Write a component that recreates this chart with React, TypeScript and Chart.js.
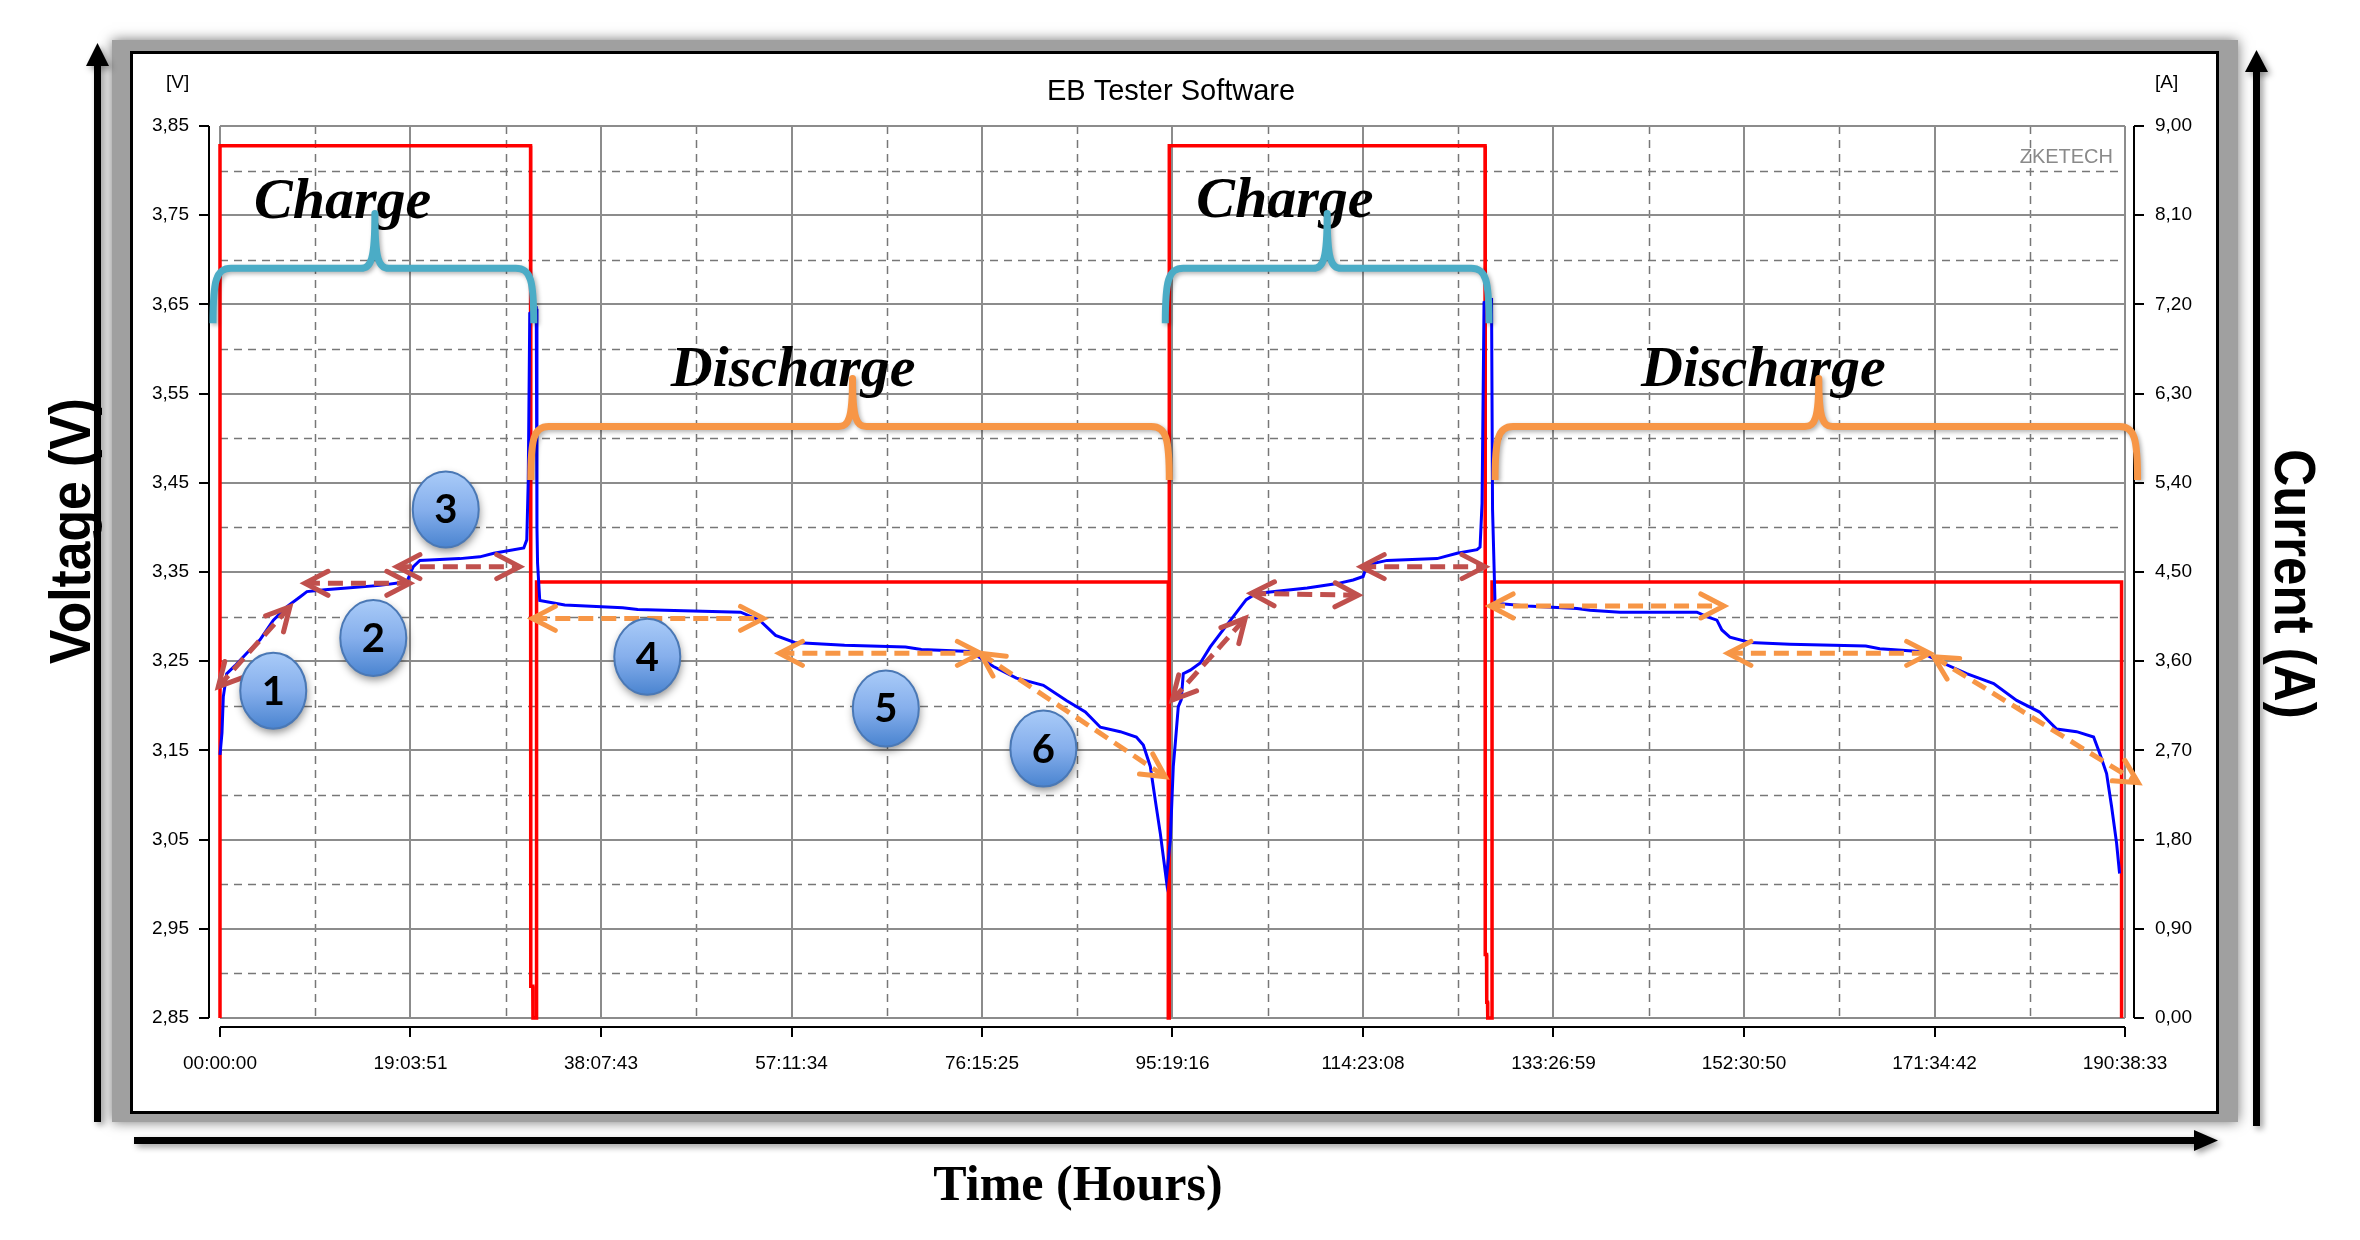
import { useEffect, useRef } from "react";
import { Chart, registerables } from "chart.js";

Chart.register(...registerables);

// ---------------- data ----------------
const TITLE = "EB Tester Software";
const X_TICK_LABELS = [
  "00:00:00", "19:03:51", "38:07:43", "57:11:34", "76:15:25", "95:19:16",
  "114:23:08", "133:26:59", "152:30:50", "171:34:42", "190:38:33",
];
const V_TICKS = [2.85, 2.95, 3.05, 3.15, 3.25, 3.35, 3.45, 3.55, 3.65, 3.75, 3.85];
const A_TICKS = [0, 0.9, 1.8, 2.7, 3.6, 4.5, 5.4, 6.3, 7.2, 8.1, 9.0];

// voltage (V) vs time (h)
const CHARGE1_T = [0, 0.2, 0.33, 0.67, 1.5, 2.67, 4.0, 5.34, 6.67, 8.0, 8.7, 10.5, 12.7, 16.0, 18.7, 19.1, 19.35, 20.0, 24.0, 26.0, 27.4, 30.4, 30.7, 30.85, 31.0, 31.65, 31.72, 31.78, 32.0];
const CHARGE1_V = [3.145, 3.17, 3.21, 3.236, 3.245, 3.259, 3.274, 3.296, 3.311, 3.322, 3.328, 3.33, 3.332, 3.335, 3.339, 3.35, 3.356, 3.363, 3.365, 3.367, 3.371, 3.377, 3.386, 3.453, 3.64, 3.645, 3.4, 3.36, 3.318];
const DISCHARGE1_T = [34.5, 40.3, 41.8, 44.5, 52.1, 54.0, 55.6, 57.5, 62.5, 68.6, 70.2, 75.1, 77.4, 79.7, 82.4, 84.7, 86.6, 88.1, 90.1, 91.7, 92.4, 93.1, 93.6, 94.1, 94.7];
const DISCHARGE1_V = [3.313, 3.31, 3.308, 3.307, 3.305, 3.296, 3.279, 3.271, 3.268, 3.266, 3.263, 3.261, 3.244, 3.231, 3.223, 3.206, 3.193, 3.176, 3.171, 3.165, 3.156, 3.132, 3.094, 3.057, 3.005];
const CHARGE2_T = [95.1, 95.4, 95.6, 95.9, 96.2, 96.4, 97.1, 98.1, 99.1, 100.1, 101.4, 102.7, 103.7, 108.8, 111.8, 113.4, 114.4, 114.8, 116.8, 121.8, 123.8, 125.8, 126.1, 126.3, 126.5, 127.25, 127.35, 127.6];
const CHARGE2_V = [3.049, 3.132, 3.158, 3.199, 3.207, 3.236, 3.24, 3.248, 3.266, 3.281, 3.3, 3.319, 3.326, 3.332, 3.337, 3.341, 3.345, 3.358, 3.363, 3.365, 3.371, 3.375, 3.378, 3.427, 3.652, 3.655, 3.42, 3.315];
const DISCHARGE2_T = [130.8, 135.8, 137.1, 140.1, 147.8, 148.8, 149.8, 150.3, 151.1, 153.1, 157.1, 164.7, 166.1, 170.1, 171.1, 172.8, 174.8, 177.5, 179.8, 182.1, 183.8, 185.8, 187.5, 188.1, 188.8, 189.3, 189.8, 190.1];
const DISCHARGE2_V = [3.312, 3.309, 3.307, 3.305, 3.305, 3.3, 3.296, 3.285, 3.277, 3.271, 3.269, 3.267, 3.264, 3.261, 3.255, 3.246, 3.236, 3.225, 3.206, 3.193, 3.174, 3.171, 3.165, 3.147, 3.124, 3.087, 3.046, 3.012];

// current (A) vs time (h)
const CURRENT_T = [0, 0, 31.08, 31.1, 31.3, 31.32, 31.68, 31.68, 94.9, 94.9, 95.0, 95.0, 126.6, 126.62, 126.75, 126.77, 126.85, 126.87, 127.3, 127.3, 190.3, 190.3];
const CURRENT_A = [0, 8.8, 8.8, 0.32, 0.32, 0, 0, 4.4, 4.4, 0, 0, 8.8, 8.8, 0.64, 0.64, 0.16, 0.16, 0, 0, 4.4, 4.4, 0];

// phase labels (data units: hours / volts)
const PHASE_TEXT = ["Charge", "Discharge", "Charge", "Discharge"];
const PHASE_T = [3.4, 45.1, 97.7, 142.2];
const PHASE_V = [3.7465, 3.558, 3.7483, 3.558];

// braces
const BRACE_KIND = ["charge", "discharge", "charge", "discharge"];
const BRACE_T0 = [-0.7, 31.1, 94.6, 127.6];
const BRACE_TM = [15.5, 63.3, 110.8, 160.0];
const BRACE_T1 = [31.4, 95.0, 127.0, 191.9];
const BRACE_FOOT_V = [3.629, 3.453, 3.629, 3.453];
const BRACE_BAR_V = [3.6905, 3.513, 3.6905, 3.513];
const BRACE_TIP_V = [3.752, 3.567, 3.752, 3.567];

// numbered steps
const STEP_TEXT = ["1", "2", "3", "4", "5", "6"];
const STEP_T = [5.33, 15.34, 22.59, 42.76, 66.63, 82.4];
const STEP_V = [3.217, 3.276, 3.42, 3.255, 3.197, 3.152];

// dashed double arrows
const ARROW_KIND = ["charge", "charge", "charge", "charge", "charge", "charge", "discharge", "discharge", "discharge", "discharge", "discharge", "discharge"];
const ARROW_T0 = [-0.17, 8.5, 17.7, 95.3, 103.2, 114.2, 31.25, 55.98, 76.1, 127.1, 150.9, 171.5];
const ARROW_V0 = [3.2214, 3.3373, 3.356, 3.2065, 3.326, 3.356, 3.298, 3.2588, 3.2588, 3.3119, 3.2588, 3.255];
const ARROW_T1 = [7.0, 19.0, 30.0, 102.6, 113.9, 126.6, 54.4, 76.1, 94.6, 150.5, 171.1, 191.96];
const ARROW_V1 = [3.3111, 3.3373, 3.356, 3.298, 3.324, 3.356, 3.298, 3.2588, 3.1205, 3.3119, 3.2588, 3.1138];

// ---------------- helpers ----------------
const hms = (s: string) => {
  const [h, m, sec] = s.split(":").map(Number);
  return h + m / 60 + sec / 3600;
};
const X_TICK_VALUES = X_TICK_LABELS.map(hms);
const X_MAX = X_TICK_VALUES[X_TICK_VALUES.length - 1];
const toPoints = (ts: number[], vs: number[]) => ts.map((t, i) => ({ x: t, y: vs[i] }));
const VOLTAGE_POINTS = [
  ...toPoints(CHARGE1_T, CHARGE1_V),
  ...toPoints(DISCHARGE1_T, DISCHARGE1_V),
  ...toPoints(CHARGE2_T, CHARGE2_V),
  ...toPoints(DISCHARGE2_T, DISCHARGE2_V),
];
const CURRENT_POINTS = toPoints(CURRENT_T, CURRENT_A);
const fmt = (v: number) => v.toFixed(2).replace(".", ",");

const SANS = "'Liberation Sans', Arial, sans-serif";
const SERIF = "'Liberation Serif', 'Times New Roman', serif";
const W = 2360;
const H = 1240;
const TEAL = "#4BACC6";
const ORANGE = "#F79646";
const BROWN = "#C0504D";

function drawRotated(ctx: any, text: string, x: number, y: number, angle: number, font: string, sx: number) {
  ctx.save();
  ctx.translate(x, y);
  ctx.rotate(angle);
  ctx.scale(sx, 1);
  ctx.font = font;
  ctx.textAlign = "center";
  ctx.textBaseline = "alphabetic";
  ctx.fillStyle = "#000";
  ctx.fillText(text, 0, 0);
  ctx.restore();
}

const framePlugin = {
  id: "frame",
  beforeDraw(chart: any) {
    const ctx = chart.ctx;
    ctx.save();
    ctx.fillStyle = "#fff";
    ctx.fillRect(0, 0, chart.width, chart.height);
    // gray shadow band
    ctx.save();
    ctx.shadowColor = "rgba(0,0,0,0.55)";
    ctx.shadowBlur = 12;
    ctx.fillStyle = "#a0a0a0";
    ctx.fillRect(112, 40, 2238 - 112, 1122 - 40);
    ctx.restore();
    // white panel
    ctx.fillStyle = "#fff";
    ctx.fillRect(131, 52, 2218 - 131, 1113 - 52);
    ctx.lineWidth = 3;
    ctx.strokeStyle = "#000";
    ctx.strokeRect(131.5, 52.5, 2217 - 131, 1112 - 52);

    // big arrows
    ctx.save();
    ctx.shadowColor = "rgba(0,0,0,0.4)";
    ctx.shadowBlur = 6;
    ctx.shadowOffsetX = 3;
    ctx.shadowOffsetY = 3;
    ctx.fillStyle = "#000";
    ctx.fillRect(94, 62, 7, 1122 - 62);
    ctx.beginPath();
    ctx.moveTo(97.5, 43);
    ctx.lineTo(86, 66);
    ctx.lineTo(109, 66);
    ctx.closePath();
    ctx.fill();
    ctx.fillRect(2253, 68, 7, 1126 - 68);
    ctx.beginPath();
    ctx.moveTo(2256.5, 50);
    ctx.lineTo(2245, 72);
    ctx.lineTo(2268, 72);
    ctx.closePath();
    ctx.fill();
    ctx.fillRect(134, 1137, 2196 - 134, 7);
    ctx.beginPath();
    ctx.moveTo(2218, 1140.5);
    ctx.lineTo(2194, 1130);
    ctx.lineTo(2194, 1151);
    ctx.closePath();
    ctx.fill();
    ctx.restore();

    // outer axis titles
    drawRotated(ctx, "Voltage (V)", 90, 531, -Math.PI / 2, `bold 58px ${SANS}`, 0.89);
    drawRotated(ctx, "Current (A)", 2275, 584, Math.PI / 2, `bold 58px ${SANS}`, 0.88);
    ctx.font = `bold 50px ${SERIF}`;
    ctx.fillStyle = "#000";
    ctx.textAlign = "center";
    ctx.textBaseline = "alphabetic";
    ctx.fillText("Time (Hours)", 1078, 1200);

    // in-panel texts
    ctx.font = `19px ${SANS}`;
    ctx.textAlign = "left";
    ctx.textBaseline = "middle";
    ctx.fillText("[V]", 166, 83);
    ctx.fillText("[A]", 2155, 83);
    ctx.font = `29px ${SANS}`;
    ctx.textAlign = "center";
    ctx.textBaseline = "alphabetic";
    ctx.fillText(TITLE, 1171, 100);
    ctx.restore();
  },
  beforeDatasetsDraw(chart: any) {
    const ctx = chart.ctx;
    const { left, right, top, bottom } = chart.chartArea;
    const xs = chart.scales.x;
    const ys = chart.scales.y;
    const ya = chart.scales.y1;
    ctx.save();
    // minor dashed grid
    ctx.setLineDash([8, 6]);
    ctx.strokeStyle = "#777";
    ctx.lineWidth = 1.5;
    for (let i = 0; i < X_TICK_VALUES.length - 1; i++) {
      const px = Math.round(xs.getPixelForValue((X_TICK_VALUES[i] + X_TICK_VALUES[i + 1]) / 2)) + 0.5;
      ctx.beginPath();
      ctx.moveTo(px, top);
      ctx.lineTo(px, bottom);
      ctx.stroke();
    }
    for (let i = 0; i < V_TICKS.length - 1; i++) {
      const py = Math.round(ys.getPixelForValue((V_TICKS[i] + V_TICKS[i + 1]) / 2)) + 0.5;
      ctx.beginPath();
      ctx.moveTo(left, py);
      ctx.lineTo(right, py);
      ctx.stroke();
    }
    // major solid grid
    ctx.setLineDash([]);
    ctx.strokeStyle = "#8c8c8c";
    ctx.lineWidth = 2;
    for (const v of X_TICK_VALUES) {
      const px = Math.round(xs.getPixelForValue(v));
      ctx.beginPath();
      ctx.moveTo(px, top);
      ctx.lineTo(px, bottom);
      ctx.stroke();
    }
    for (const v of V_TICKS) {
      const py = Math.round(ys.getPixelForValue(v));
      ctx.beginPath();
      ctx.moveTo(left, py);
      ctx.lineTo(right, py);
      ctx.stroke();
    }
    // axis lines with outward ticks
    ctx.strokeStyle = "#000";
    ctx.lineWidth = 2;
    const axL = left - 11;
    const axR = right + 9;
    const axB = bottom + 9;
    ctx.beginPath();
    ctx.moveTo(axL, ys.getPixelForValue(V_TICKS[V_TICKS.length - 1]));
    ctx.lineTo(axL, ys.getPixelForValue(V_TICKS[0]));
    for (const v of V_TICKS) {
      const py = Math.round(ys.getPixelForValue(v));
      ctx.moveTo(axL - 10, py);
      ctx.lineTo(axL, py);
    }
    ctx.moveTo(axR, ya.getPixelForValue(A_TICKS[A_TICKS.length - 1]));
    ctx.lineTo(axR, ya.getPixelForValue(A_TICKS[0]));
    for (const v of A_TICKS) {
      const py = Math.round(ya.getPixelForValue(v));
      ctx.moveTo(axR, py);
      ctx.lineTo(axR + 10, py);
    }
    ctx.moveTo(xs.getPixelForValue(0), axB);
    ctx.lineTo(xs.getPixelForValue(X_MAX), axB);
    for (const v of X_TICK_VALUES) {
      const px = Math.round(xs.getPixelForValue(v));
      ctx.moveTo(px, axB);
      ctx.lineTo(px, axB + 10);
    }
    ctx.stroke();
    // watermark
    ctx.font = `20px ${SANS}`;
    ctx.fillStyle = "#8a8a8a";
    ctx.textAlign = "right";
    ctx.textBaseline = "alphabetic";
    ctx.fillText("ZKETECH", right - 12, top + 37);
    ctx.restore();
  },
};

function drawBrace(ctx: any, x0: number, xm: number, x1: number, yFoot: number, yBar: number, yTip: number, color: string) {
  ctx.save();
  ctx.shadowColor = "rgba(0,0,0,0.3)";
  ctx.shadowBlur = 4;
  ctx.shadowOffsetX = 2;
  ctx.shadowOffsetY = 2;
  ctx.strokeStyle = color;
  ctx.lineWidth = 7;
  ctx.lineJoin = "round";
  ctx.beginPath();
  ctx.moveTo(x0, yFoot);
  ctx.bezierCurveTo(x0, yBar + 12, x0 + 3, yBar, x0 + 18, yBar);
  ctx.lineTo(xm - 14, yBar);
  ctx.bezierCurveTo(xm - 4, yBar, xm, yBar - 8, xm, yTip);
  ctx.bezierCurveTo(xm, yBar - 8, xm + 4, yBar, xm + 14, yBar);
  ctx.lineTo(x1 - 18, yBar);
  ctx.bezierCurveTo(x1 - 3, yBar, x1, yBar + 12, x1, yFoot);
  ctx.stroke();
  ctx.restore();
}

function drawDoubleArrow(ctx: any, xa: number, ya: number, xb: number, yb: number, color: string) {
  ctx.save();
  ctx.strokeStyle = color;
  ctx.lineWidth = 5;
  ctx.setLineDash([15, 8]);
  ctx.beginPath();
  ctx.moveTo(xa, ya);
  ctx.lineTo(xb, yb);
  ctx.stroke();
  ctx.setLineDash([]);
  ctx.lineCap = "round";
  ctx.lineJoin = "miter";
  const ang = Math.atan2(yb - ya, xb - xa);
  const L = 26;
  const s = 0.48;
  const head = (tx: number, ty: number, a: number) => {
    ctx.beginPath();
    ctx.moveTo(tx - L * Math.cos(a - s), ty - L * Math.sin(a - s));
    ctx.lineTo(tx, ty);
    ctx.lineTo(tx - L * Math.cos(a + s), ty - L * Math.sin(a + s));
    ctx.stroke();
  };
  head(xb, yb, ang);
  head(xa, ya, ang + Math.PI);
  ctx.restore();
}

const annotationPlugin = {
  id: "annotations",
  afterDatasetsDraw(chart: any) {
    const ctx = chart.ctx;
    const xs = chart.scales.x;
    const ys = chart.scales.y;
    const X = (t: number) => xs.getPixelForValue(t);
    const Y = (v: number) => ys.getPixelForValue(v);
    ctx.save();
    // phase labels
    ctx.font = `italic bold 58px ${SERIF}`;
    ctx.fillStyle = "#000";
    ctx.textAlign = "left";
    ctx.textBaseline = "alphabetic";
    PHASE_TEXT.forEach((txt, i) => ctx.fillText(txt, X(PHASE_T[i]), Y(PHASE_V[i])));
    // braces
    BRACE_KIND.forEach((k, i) => {
      drawBrace(ctx, X(BRACE_T0[i]), X(BRACE_TM[i]), X(BRACE_T1[i]), Y(BRACE_FOOT_V[i]), Y(BRACE_BAR_V[i]), Y(BRACE_TIP_V[i]), k === "charge" ? TEAL : ORANGE);
    });
    // arrows
    ARROW_KIND.forEach((k, i) => {
      drawDoubleArrow(ctx, X(ARROW_T0[i]), Y(ARROW_V0[i]), X(ARROW_T1[i]), Y(ARROW_V1[i]), k === "charge" ? BROWN : ORANGE);
    });
    // numbered circles
    const rx = 33;
    const ry = 38;
    STEP_TEXT.forEach((txt, i) => {
      const cx = X(STEP_T[i]);
      const cy = Y(STEP_V[i]);
      ctx.save();
      ctx.shadowColor = "rgba(0,0,0,0.45)";
      ctx.shadowBlur = 8;
      ctx.shadowOffsetX = 1;
      ctx.shadowOffsetY = 4;
      const g = ctx.createLinearGradient(0, cy - ry, 0, cy + ry);
      g.addColorStop(0, "#a9cbf8");
      g.addColorStop(0.5, "#86afec");
      g.addColorStop(1, "#4a84d0");
      ctx.fillStyle = g;
      ctx.beginPath();
      ctx.ellipse(cx, cy, rx, ry, 0, 0, Math.PI * 2);
      ctx.fill();
      ctx.restore();
      ctx.strokeStyle = "#4a78b5";
      ctx.lineWidth = 2;
      ctx.beginPath();
      ctx.ellipse(cx, cy, rx, ry, 0, 0, Math.PI * 2);
      ctx.stroke();
      ctx.fillStyle = "#000";
      ctx.font = "bold 40px Lato, 'Open Sans', sans-serif";
      ctx.textAlign = "center";
      ctx.textBaseline = "middle";
      ctx.fillText(txt, cx, cy + 1);
    });
    ctx.restore();
  },
};

export default function App() {
  const ref = useRef<HTMLCanvasElement>(null);
  useEffect(() => {
    const canvas = ref.current;
    if (!canvas) return;
    const tickFont = { family: SANS, size: 19 };
    const chart = new Chart(canvas, {
      type: "line",
      data: {
        datasets: [
          {
            label: "Voltage",
            data: VOLTAGE_POINTS,
            yAxisID: "y",
            borderColor: "#0000ff",
            borderWidth: 3,
            pointRadius: 0,
            tension: 0,
            clip: 12,
          },
          {
            label: "Current",
            data: CURRENT_POINTS,
            yAxisID: "y1",
            borderColor: "#ff0000",
            borderWidth: 3.5,
            pointRadius: 0,
            tension: 0,
            clip: 12,
          },
        ],
      } as any,
      options: {
        animation: false,
        responsive: false,
        maintainAspectRatio: false,
        devicePixelRatio: 1,
        events: [],
        layout: { padding: { left: 140, right: W - 2125 - 80, top: 126, bottom: H - 1018 - 60 } },
        plugins: { legend: { display: false }, tooltip: { enabled: false }, title: { display: false } },
        scales: {
          x: {
            type: "linear",
            min: 0,
            max: X_MAX,
            afterBuildTicks: (s: any) => {
              s.ticks = X_TICK_VALUES.map((v) => ({ value: v }));
            },
            afterFit: (s: any) => {
              s.height = 60;
            },
            grid: { display: false, drawTicks: false },
            border: { display: false },
            ticks: {
              autoSkip: false,
              maxRotation: 0,
              minRotation: 0,
              padding: 34,
              color: "#000",
              font: tickFont,
              callback: (_v: any, i: number) => X_TICK_LABELS[i],
            },
          },
          y: {
            type: "linear",
            position: "left",
            min: V_TICKS[0],
            max: V_TICKS[V_TICKS.length - 1],
            afterBuildTicks: (s: any) => {
              s.ticks = V_TICKS.map((v) => ({ value: v }));
            },
            afterFit: (s: any) => {
              s.width = 80;
            },
            grid: { display: false, drawTicks: false },
            border: { display: false },
            ticks: { padding: 31, color: "#000", font: tickFont, callback: (v: any) => fmt(Number(v)) },
          },
          y1: {
            type: "linear",
            position: "right",
            min: A_TICKS[0],
            max: A_TICKS[A_TICKS.length - 1],
            afterBuildTicks: (s: any) => {
              s.ticks = A_TICKS.map((v) => ({ value: v }));
            },
            afterFit: (s: any) => {
              s.width = 80;
            },
            grid: { display: false, drawTicks: false },
            border: { display: false },
            ticks: { padding: 30, color: "#000", font: tickFont, callback: (v: any) => fmt(Number(v)) },
          },
        },
      } as any,
      plugins: [framePlugin, annotationPlugin],
    });
    return () => chart.destroy();
  }, []);
  return (
    <div style={{ position: "absolute", left: 0, top: 0, width: W, height: H, background: "#fff" }}>
      <canvas ref={ref} width={W} height={H} style={{ display: "block", width: W, height: H }} />
    </div>
  );
}
